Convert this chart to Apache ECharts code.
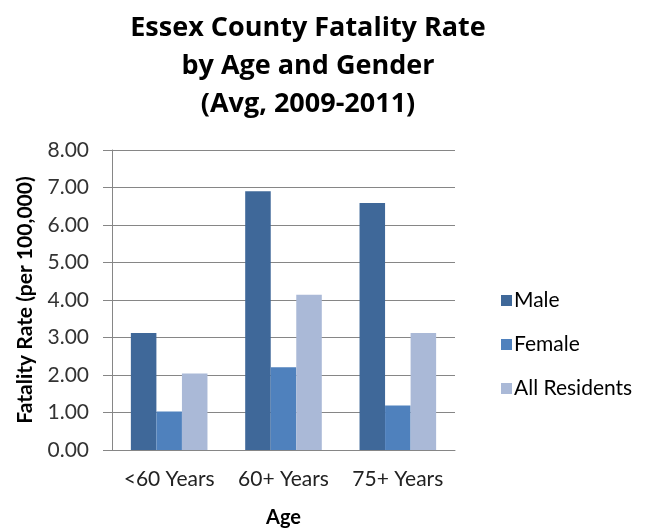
<!DOCTYPE html>
<html>
<head>
<meta charset="utf-8">
<script src="https://cdn.jsdelivr.net/npm/echarts@6/dist/echarts.min.js"></script>
<style>html,body{margin:0;padding:0;background:#fff;}#c{width:648px;height:529px;}</style>
</head>
<body>
<div id="c"></div>
<script>
const categories = ['<60 Years', '60+ Years', '75+ Years'];
const male = [3.12, 6.90, 6.59];
const female = [1.03, 2.21, 1.19];
const allResidents = [2.04, 4.14, 3.12];
const yTicks = [0, 1, 2, 3, 4, 5, 6, 7, 8];

const font = 'Lato';
const chart = echarts.init(document.getElementById('c'), null, {renderer: 'canvas'});
chart.setOption({
  animation: false,
  backgroundColor: '#ffffff',
  title: {
    text: 'Essex County Fatality Rate\nby Age and Gender\n(Avg, 2009-2011)',
    left: 303, top: 4, textAlign: 'center',
    textStyle: {fontFamily: 'Open Sans', fontWeight: 'bold', fontSize: 27, lineHeight: 38, color: '#000'}
  },
  legend: {
    orient: 'vertical', left: 496, top: 285, itemGap: 23,
    icon: 'rect', itemWidth: 11, itemHeight: 11,
    textStyle: {fontFamily: font, fontSize: 21, color: '#000', padding: [0, 0, 0, -3]},
    data: ['Male', 'Female', 'All Residents']
  },
  grid: {left: 112, right: 193, top: 150, bottom: 79, containLabel: false, outerBoundsMode: 'none'},
  xAxis: {
    type: 'category', data: categories,
    name: 'Age', nameLocation: 'middle', nameGap: 58,
    nameTextStyle: {fontFamily: font, fontWeight: 'bold', fontSize: 20, color: '#000'},
    axisLine: {lineStyle: {color: '#868686', width: 1}},
    axisTick: {show: false},
    axisLabel: {fontFamily: font, fontSize: 21, color: '#222', margin: 19, interval: 0}
  },
  yAxis: {
    type: 'value', min: 0, max: 8, interval: 1,
    name: 'Fatality Rate (per 100,000)', nameLocation: 'middle', nameGap: 76, nameRotate: 90,
    nameTextStyle: {fontFamily: font, fontWeight: 'bold', fontSize: 21, color: '#000'},
    axisLine: {show: true, lineStyle: {color: '#868686', width: 1}},
    axisTick: {show: true, length: 9, lineStyle: {color: '#868686'}},
    splitLine: {lineStyle: {color: '#868686', width: 1}},
    axisLabel: {fontFamily: font, fontSize: 21, color: '#333', margin: 23,
      formatter: v => yTicks.includes(v) ? v.toFixed(2) : ''}
  },
  series: [
    {name: 'Male', type: 'bar', data: male, itemStyle: {color: '#3F6899'}, barGap: '0%', barCategoryGap: '33%'},
    {name: 'Female', type: 'bar', data: female, itemStyle: {color: '#4F81BD'}},
    {name: 'All Residents', type: 'bar', data: allResidents, itemStyle: {color: '#AAB9D7'}}
  ]
});
</script>
</body>
</html>
